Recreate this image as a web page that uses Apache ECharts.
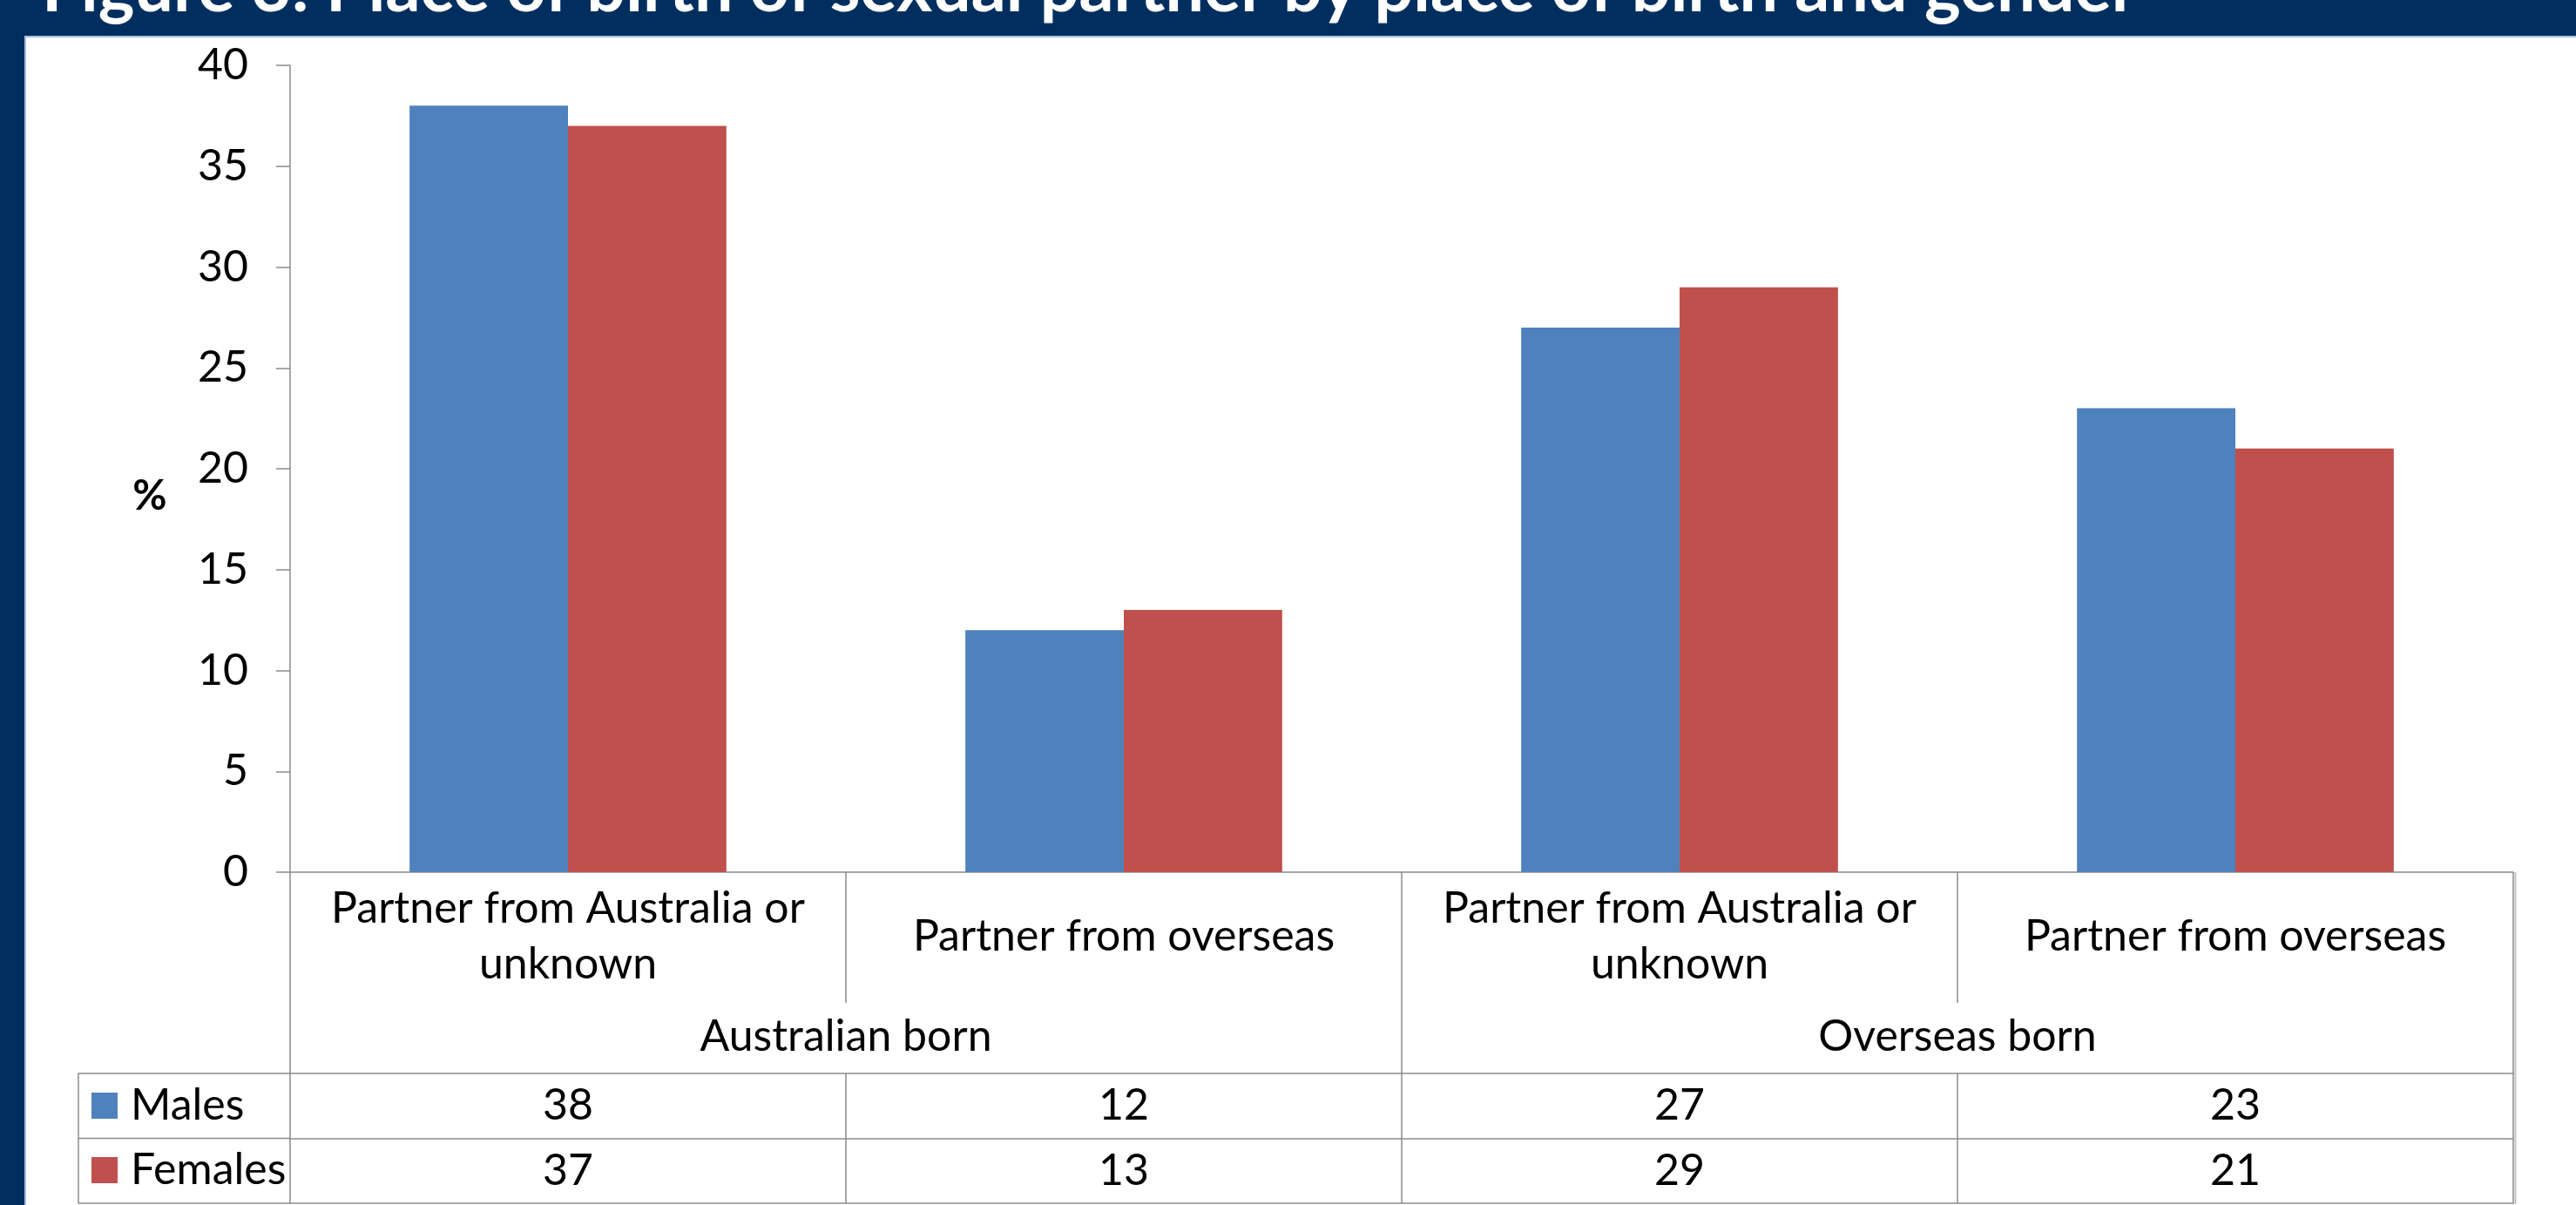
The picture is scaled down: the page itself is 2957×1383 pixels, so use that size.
<!DOCTYPE html>
<html>
<head>
<meta charset="utf-8">
<title>Place of birth of sexual partner</title>
<script src="https://cdn.jsdelivr.net/npm/echarts@6/dist/echarts.min.js"></script>
<style>
  html, body { margin: 0; padding: 0; background: #002F5F; }
  #chart { width: 2957px; height: 1383px; }
</style>
</head>
<body>
<div id="chart"></div>
<script>
// Sub-categories (partner's place of birth) and their parent groups (respondent's place of birth)
const categories = [
  'Partner from Australia or\nunknown',
  'Partner from overseas',
  'Partner from Australia or\nunknown',
  'Partner from overseas'
];
const groups = ['Australian born', 'Overseas born'];

// Percentages by gender
const males = [38, 12, 27, 23];
const females = [37, 13, 29, 21];

// Value axis range
const yMin = 0;
const yMax = 40;
const yStep = 5;

const titleText = 'Figure 3: Place of birth of sexual partner by place of birth and gender';

const FONT = 'Lato';
const GRAY = '#8c8c8c';
const BLUE = '#4F81BD';
const RED = '#C0504D';
const TXT = 50;

const chart = echarts.init(document.getElementById('chart'), null, { renderer: 'canvas' });

// Grid geometry; the data table rows hang below the category axis
const grid = { left: 333, top: 75, width: 2552, height: 926 };
const subRowH = 231;   // sub-category + group label block
const rowH = 74.5;     // each data table row

function tableAxis(data, offset, opts) {
  return Object.assign({
    type: 'category',
    gridIndex: 0,
    position: 'bottom',
    offset: offset,
    data: data,
    axisLine: { show: true, lineStyle: { color: GRAY, width: 1.5 } },
    axisTick: { show: true, interval: 0, alignWithLabel: false, length: rowH, lineStyle: { color: GRAY, width: 1.5 } },
    axisLabel: {
      interval: 0, margin: rowH / 2, verticalAlign: 'middle',
      fontFamily: FONT, fontSize: TXT, color: '#000'
    },
    splitLine: { show: false }
  }, opts || {});
}

// One legend block per table row, so each key sits in its own row
function legendRow(name, top) {
  return {
    orient: 'vertical',
    left: 105,
    top: top,
    padding: 0,
    itemWidth: 30,
    itemHeight: 30,
    icon: 'rect',
    data: [name],
    textStyle: { fontFamily: FONT, fontSize: TXT, color: '#000', lineHeight: 30, padding: [0, 0, 0, 10] }
  };
}

const option = {
  backgroundColor: '#002F5F',
  animation: false,
  textStyle: { fontFamily: FONT },
  grid: grid,
  legend: [
    legendRow('Males', 1244),
    legendRow('Females', 1318)
  ],
  graphic: [
    {
      type: 'rect', z: -100, silent: true,
      shape: { x: 29, y: 42, width: 2940, height: 1360 },
      style: { fill: '#ffffff', stroke: '#a9bed9', lineWidth: 2 }
    },
    {
      type: 'text', silent: true,
      style: {
        text: titleText, x: 48, y: -12,
        font: 'bold 79px Lato', fill: '#ffffff', verticalAlign: 'middle'
      }
    },
    {
      type: 'text', silent: true,
      style: {
        text: '%', x: 172, y: 570,
        font: 'bold 48px Lato', fill: '#000000', align: 'center', verticalAlign: 'middle'
      }
    },
    // Legend column frame of the data table
    {
      type: 'polyline', silent: true,
      shape: { points: [[333, 1232], [90, 1232], [90, 1381], [333, 1381]] },
      style: { stroke: GRAY, lineWidth: 1.5, fill: null }
    },
    {
      type: 'line', silent: true,
      shape: { x1: 90, y1: 1306.5, x2: 333, y2: 1306.5 },
      style: { stroke: GRAY, lineWidth: 1.5 }
    },
    // Soft shadow on the table's right edge
    {
      type: 'line', silent: true,
      shape: { x1: 2887.5, y1: 1001, x2: 2887.5, y2: 1382 },
      style: { stroke: '#c4c4c4', lineWidth: 2 }
    }
  ],
  xAxis: [
    // Sub-category labels directly under the bars
    {
      type: 'category',
      gridIndex: 0,
      position: 'bottom',
      data: categories,
      axisLine: { show: true, lineStyle: { color: GRAY, width: 1.5 } },
      axisTick: { show: true, interval: 0, alignWithLabel: false, length: 150, lineStyle: { color: GRAY, width: 1.5 } },
      axisLabel: {
        interval: 0, margin: 74, verticalAlign: 'middle', lineHeight: 64,
        fontFamily: FONT, fontSize: TXT, color: '#000'
      }
    },
    // Group labels
    {
      type: 'category',
      gridIndex: 0,
      position: 'bottom',
      offset: 0,
      data: groups,
      axisLine: { show: false },
      axisTick: { show: true, interval: 0, alignWithLabel: false, length: subRowH, lineStyle: { color: GRAY, width: 1.5 } },
      axisLabel: {
        interval: 0, margin: 189, verticalAlign: 'middle',
        fontFamily: FONT, fontSize: TXT, color: '#000'
      }
    },
    // Data table rows
    tableAxis(males.map(String), subRowH),
    tableAxis(females.map(String), subRowH + rowH),
    tableAxis(categories.map(() => ''), subRowH + 2 * rowH, {
      axisTick: { show: false },
      axisLabel: { show: false }
    })
  ],
  yAxis: {
    type: 'value',
    min: yMin,
    max: yMax,
    interval: yStep,
    axisLine: { show: true, lineStyle: { color: GRAY, width: 1.5 } },
    axisTick: { show: true, length: 16, lineStyle: { color: GRAY, width: 1.5 } },
    axisLabel: { margin: 48, fontFamily: FONT, fontSize: TXT, color: '#000' },
    splitLine: { show: false }
  },
  series: [
    {
      name: 'Males',
      type: 'bar',
      xAxisIndex: 0,
      data: males,
      barGap: '0%',
      barCategoryGap: '43%',
      itemStyle: { color: BLUE }
    },
    {
      name: 'Females',
      type: 'bar',
      xAxisIndex: 0,
      data: females,
      barGap: '0%',
      barCategoryGap: '43%',
      itemStyle: { color: RED }
    }
  ]
};

chart.setOption(option);
</script>
</body>
</html>
